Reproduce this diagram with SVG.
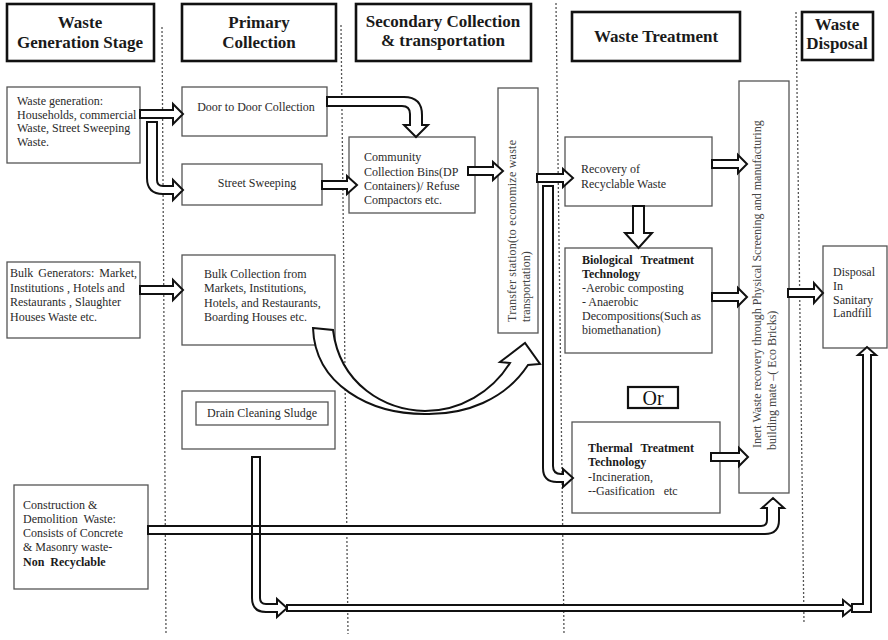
<svg xmlns="http://www.w3.org/2000/svg" width="888" height="640" viewBox="0 0 888 640">
  <style>
    .bg { fill: #ffffff; }
    .hdr { fill: #ffffff; stroke: #111; stroke-width: 2.6; }
    .hdrt { font-family: "Liberation Serif", "Times New Roman", serif; font-size: 17px; font-weight: bold; fill: #1a1a1a; text-anchor: middle; }
    .box { fill: #ffffff; stroke: #555; stroke-width: 1.3; }
    .t { font-family: "Liberation Serif", "Times New Roman", serif; font-size: 12px; fill: #2a2a2a; }
    .b { font-weight: bold; fill: #1a1a1a; }
    .c { text-anchor: middle; }
    .vt { font-family: "Liberation Serif", "Times New Roman", serif; font-size: 12px; fill: #444; }
    .div { stroke: #555; stroke-width: 1.3; stroke-dasharray: 2 2; fill: none; }
    .arr { fill: #ffffff; stroke: #111; stroke-width: 2; stroke-linejoin: miter; }
    .arr-o { fill: none; stroke: #111; stroke-width: 2; }
  </style>

  <rect class="bg" x="0" y="0" width="888" height="640"/>

  <!-- stage dividers -->
  <g id="dividers">
    <line class="div" x1="162" y1="27" x2="166" y2="634"/>
    <line class="div" x1="341" y1="25" x2="348" y2="634"/>
    <line class="div" x1="556" y1="3" x2="564" y2="634"/>
    <line class="div" x1="796" y1="12" x2="804" y2="624"/>
  </g>

  <!-- stage headers -->
  <g id="hdr-generation">
    <rect class="hdr" x="7" y="4" width="147" height="57"/>
    <text class="hdrt" x="80" y="28">Waste</text>
    <text class="hdrt" x="80" y="48">Generation Stage</text>
  </g>
  <g id="hdr-primary">
    <rect class="hdr" x="182" y="4" width="154" height="57"/>
    <text class="hdrt" x="259" y="28">Primary</text>
    <text class="hdrt" x="259" y="48">Collection</text>
  </g>
  <g id="hdr-secondary">
    <rect class="hdr" x="356" y="4" width="175" height="57"/>
    <text class="hdrt" x="443" y="27">Secondary Collection</text>
    <text class="hdrt" x="443" y="46">&amp; transportation</text>
  </g>
  <g id="hdr-treatment">
    <rect class="hdr" x="572" y="12" width="168" height="49"/>
    <text class="hdrt" x="656" y="42">Waste Treatment</text>
  </g>
  <g id="hdr-disposal">
    <rect class="hdr" x="802" y="12" width="71" height="48"/>
    <text class="hdrt" x="837" y="30">Waste</text>
    <text class="hdrt" x="837" y="49">Disposal</text>
  </g>

  <!-- generation stage -->
  <g id="n-waste-generation">
    <rect class="box" x="7" y="87" width="133" height="76"/>
    <text class="t" x="17" y="105">Waste generation:</text>
    <text class="t" x="17" y="119">Households, commercial</text>
    <text class="t" x="17" y="132">Waste, Street Sweeping</text>
    <text class="t" x="17" y="146">Waste.</text>
  </g>
  <g id="n-bulk-generators">
    <rect class="box" x="7" y="262" width="133" height="76"/>
    <text class="t" x="10" y="277" word-spacing="2">Bulk Generators: Market,</text>
    <text class="t" x="10" y="292">Institutions , Hotels and</text>
    <text class="t" x="10" y="306">Restaurants , Slaughter</text>
    <text class="t" x="10" y="321">Houses Waste etc.</text>
  </g>
  <g id="n-construction">
    <rect class="box" x="14" y="485" width="134" height="104"/>
    <text class="t" x="23" y="509">Construction &amp;</text>
    <text class="t" x="23" y="523" word-spacing="3">Demolition Waste:</text>
    <text class="t" x="23" y="537">Consists of Concrete</text>
    <text class="t" x="23" y="551">&amp; Masonry waste-</text>
    <text class="t b" x="23" y="566" word-spacing="3">Non Recyclable</text>
  </g>

  <!-- primary collection -->
  <g id="n-door-to-door">
    <rect class="box" x="182" y="87" width="145" height="49"/>
    <text class="t c" x="256" y="111">Door to Door Collection</text>
  </g>
  <g id="n-street-sweeping">
    <rect class="box" x="182" y="164" width="140" height="41"/>
    <text class="t c" x="257" y="187">Street Sweeping</text>
  </g>
  <g id="n-bulk-collection">
    <rect class="box" x="182" y="255" width="153" height="90"/>
    <text class="t" x="204" y="278">Bulk Collection from</text>
    <text class="t" x="204" y="292">Markets, Institutions,</text>
    <text class="t" x="204" y="307">Hotels, and Restaurants,</text>
    <text class="t" x="204" y="321">Boarding Houses etc.</text>
  </g>
  <g id="n-drain-sludge">
    <rect class="box" x="182" y="391" width="153" height="58"/>
    <rect class="box" x="196" y="402" width="132" height="23"/>
    <text class="t c" x="262" y="417">Drain Cleaning Sludge</text>
  </g>

  <!-- secondary collection -->
  <g id="n-community-bins">
    <rect class="box" x="349" y="137" width="126" height="76"/>
    <text class="t" x="364" y="161">Community</text>
    <text class="t" x="364" y="176">Collection Bins(DP</text>
    <text class="t" x="364" y="190">Containers)/ Refuse</text>
    <text class="t" x="364" y="204">Compactors etc.</text>
  </g>
  <g id="n-transfer-station">
    <rect class="box" x="498" y="88" width="40" height="245"/>
    <text class="vt" transform="translate(516,322) rotate(-90)" textLength="182" lengthAdjust="spacing">Transfer station(to economize waste</text>
    <text class="vt" transform="translate(530,322) rotate(-90)">transportation)</text>
  </g>

  <!-- waste treatment -->
  <g id="n-recovery">
    <rect class="box" x="565" y="137" width="147" height="69"/>
    <text class="t" x="581" y="173">Recovery of</text>
    <text class="t" x="581" y="188">Recyclable Waste</text>
  </g>
  <g id="n-biological">
    <rect class="box" x="565" y="248" width="147" height="105"/>
    <text class="t b" x="582" y="264" word-spacing="5">Biological Treatment</text>
    <text class="t b" x="582" y="278">Technology</text>
    <text class="t" x="582" y="292">-Aerobic composting</text>
    <text class="t" x="582" y="306">- Anaerobic</text>
    <text class="t" x="582" y="320">Decompositions(Such as</text>
    <text class="t" x="582" y="334">biomethanation)</text>
  </g>
  <g id="n-or">
    <rect x="628" y="387" width="50" height="21" fill="#fff" stroke="#111" stroke-width="2.2"/>
    <text x="653" y="405" font-family="Liberation Serif, serif" font-size="20" fill="#111" text-anchor="middle">Or</text>
  </g>
  <g id="n-thermal">
    <rect class="box" x="572" y="422" width="148" height="91"/>
    <text class="t b" x="588" y="452" word-spacing="5">Thermal Treatment</text>
    <text class="t b" x="588" y="466">Technology</text>
    <text class="t" x="588" y="481">-Incineration,</text>
    <text class="t" x="588" y="495" xml:space="preserve">--Gasification   etc</text>
  </g>
  <g id="n-inert-recovery">
    <rect class="box" x="739" y="81" width="50" height="412"/>
    <text class="vt" transform="translate(761,448) rotate(-90)">Inert Waste recovery through Physical Screening and manufacturing</text>
    <text class="vt" transform="translate(776,450) rotate(-90)">building mate –( Eco Bricks)</text>
  </g>

  <!-- disposal -->
  <g id="n-landfill">
    <rect class="box" x="823" y="246" width="64" height="102"/>
    <text class="t" x="833" y="276">Disposal</text>
    <text class="t" x="833" y="290">In</text>
    <text class="t" x="833" y="304">Sanitary</text>
    <text class="t" x="833" y="317">Landfill</text>
  </g>

  <!-- connectors (block arrows, drawn over the boxes) -->
  <g id="connectors">
    <!-- waste generation -> door to door -->
    <path class="arr" d="M140,110 H173 V104 L183,114 L173,124 V118 H140 Z"/>
    <!-- waste generation -> street sweeping -->
    <path class="arr" d="M157,122 V180 Q157,186 163,186 H173 V180 L183,190 L173,200 V194 H163 Q147,194 147,178 V122 Z"/>
    <!-- door to door -> community bins -->
    <path class="arr" d="M327,97 H404 Q422,97 422,115 V125 H428 L416,137 L404,125 H410 V114 Q410,106 402,106 H327 Z"/>
    <!-- street sweeping -> community bins -->
    <path class="arr" d="M322,181 H347 V176 L357,185 L347,194 V189 H322 Z"/>
    <!-- community bins -> transfer station -->
    <path class="arr" d="M468,167 H493 V162 L503,171 L493,180 V175 H468 Z"/>
    <!-- transfer station -> recovery -->
    <path class="arr" d="M537,174 H563 V169 L573,178 L563,187 V182 H537 Z"/>
    <!-- transfer station -> thermal treatment -->
    <path class="arr" d="M543,186 H553 V466 Q553,474 561,474 H563 V469 L573,478 L563,487 V482 H557 Q543,482 543,468 Z"/>
    <!-- recovery -> biological -->
    <path class="arr" d="M633,206 H644 V233 H652 L638.5,248 L625,233 H633 Z"/>
    <!-- recovery -> inert recovery -->
    <path class="arr" d="M712,160 H738 V155 L747,164 L738,173 V168 H712 Z"/>
    <!-- biological -> inert recovery -->
    <path class="arr" d="M712,293 H738 V288 L747,297 L738,306 V301 H712 Z"/>
    <!-- thermal -> inert recovery -->
    <path class="arr" d="M711,453 H739 V448 L748,457 L739,466 V461 H711 Z"/>
    <!-- inert recovery -> landfill -->
    <path class="arr" d="M788,289 H814 V283 L823,293 L814,303 V297 H788 Z"/>
    <!-- bulk generators -> bulk collection -->
    <path class="arr" d="M140,286 H173 V280 L183,290 L173,300 V294 H140 Z"/>
    <!-- bulk collection -> transfer station (curved) -->
    <path class="arr" d="M313,328 L333,330 C340,385 385,410 425,411 C460,411 492,392 510,363 L500,362 L525,343 L540,364 L528,365 C505,400 465,415 425,414 C370,414 315,385 313,328 Z"/>
    <!-- drain sludge -> bottom line -->
    <path id="drain-arrow" class="arr" d="M252,457 H260 V598 Q260,604 266,604 H277 V599 L287,608 L277,617 V612 H266 Q252,612 252,598 Z"/>
    <!-- construction & demolition -> inert recovery -->
    <path class="arr" d="M148,526 H761 Q767,526 767,520 V508 H762 L773,498 L784,508 H779 V520 Q779,534 765,534 H148 Z"/>
    <!-- drain arrow outline kept visible where the two shafts cross -->
    <path class="arr-o" d="M252,520 V540 M260,520 V540"/>
    <!-- bottom line -> landfill -->
    <path class="arr" d="M287,605 H843 V600 L853,608 L843,616 V611 H287 Z"/>
    <path class="arr" d="M852,604 H863 V355 H858 L867,347 L876,355 H871 V612 H852 Z"/>
  </g>
</svg>
